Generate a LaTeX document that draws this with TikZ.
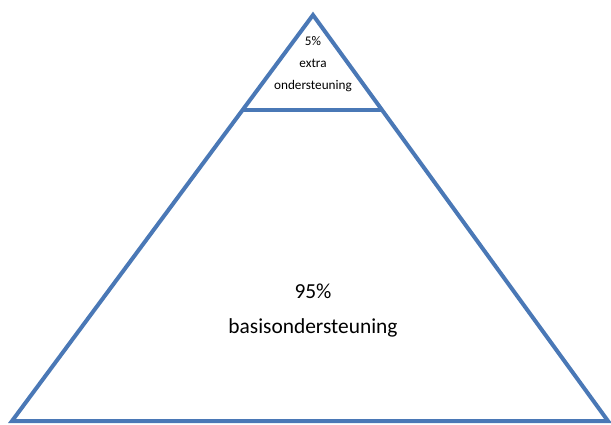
\documentclass[tikz,border=0pt]{standalone}
\usepackage{fontspec}
\setmainfont{Carlito}
\usetikzlibrary{calc}
\definecolor{pyrblue}{RGB}{74,120,182}
\tikzset{pyrline/.style={draw=pyrblue, line width=4pt}}
\begin{document}
\begin{tikzpicture}[x=1pt, y=-1pt, line join=miter, line cap=butt]
    \useasboundingbox (0,0) rectangle (611,424);
    \coordinate (top) at (313,15);
    \coordinate (bl) at (12,421);
    \coordinate (br) at (608,421);
    \draw[pyrline] (top)--(bl)--(br)--cycle;
    \draw[pyrline] ($(top)!0.234!(bl)$)--($(top)!0.234!(br)$);
    \node[align=center, font=\fontsize{13.2}{22}\selectfont] (extra) at (313,64) {5\%\\extra\\ondersteuning};
    \node[align=center, font=\fontsize{21.4}{35}\selectfont] (basis) at (313,311) {95\%\\basisondersteuning};
\end{tikzpicture}
\end{document}
